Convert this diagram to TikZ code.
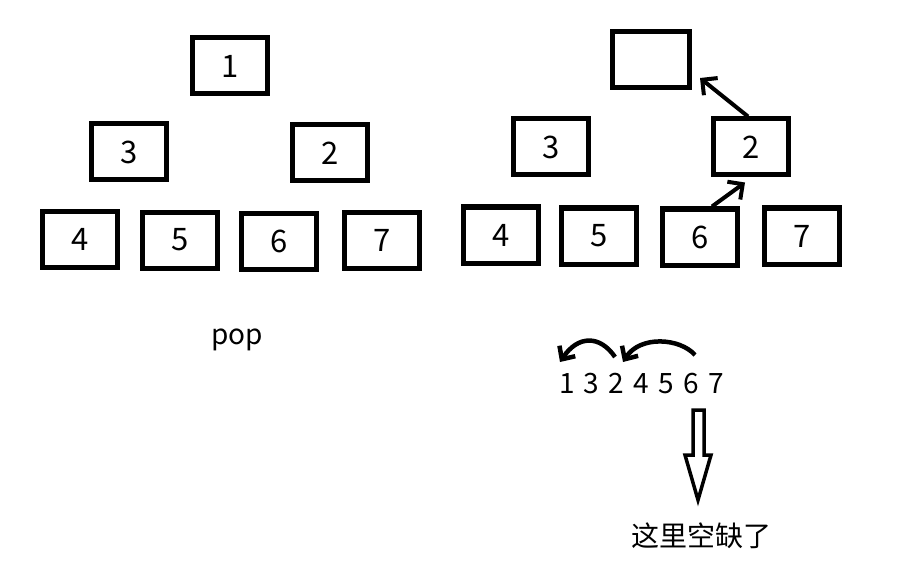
\documentclass[tikz,border=0pt]{standalone}
\usepackage{fontspec}
\setmainfont{Noto Sans CJK SC}
\usetikzlibrary{arrows.meta,positioning,calc}

\begin{document}
\begin{tikzpicture}[x=1pt,y=-1pt,
  box/.style={draw,line width=5pt,minimum width=75pt,minimum height=56pt,inner sep=0pt,font=\fontsize{31}{33}\selectfont},
  lbl/.style={inner sep=0pt,font=\fontsize{28}{30}\selectfont},
  digit/.style={lbl,anchor=base},
  barb/.style={-{Straight Barb[length=11pt,width=22pt]},line width=4pt},
  curvy/.style={-{Straight Barb[length=10pt,width=19pt]},line width=4.5pt}]
  \useasboundingbox (0,0) rectangle (907,564);
  % heap before pop
  \node[box] (a1) at (230,66) {1};
  \node[box] (a3) at (129,152) {3};  \node[box] (a2) at (330,153) {2};
  \node[box] (a4) at (80,239) {4};   \node[box] (a5) at (180,240) {5};
  \node[box] (a6) at (279,241) {6};  \node[box] (a7) at (382,240) {7};
  \node[lbl] (pop) at (237,340) {pop};
  % heap after pop
  \node[box,minimum width=77pt] (r0) at (651,60) {};
  \node[box] (r3) at (551,147) {3};  \node[box] (r2) at (751,147) {2};
  \node[box] (r4) at (501,235) {4};  \node[box] (r5) at (599,236) {5};
  \node[box] (r6) at (700,237) {6};  \node[box] (r7) at (802,236) {7};
  \draw[barb] ([xshift=-3pt]r2.north) -- ([shift={(8,18)}]r0.east);
  \draw[barb] ([xshift=12pt]r6.north) -- ([shift={(-6,5)}]r2.south);
  % array
  \node[digit] (q1) at (567,393) {1};  \node[digit] (q2) at (591,393) {3};
  \node[digit] (q3) at (616,393) {2};  \node[digit] (q4) at (641,393) {4};
  \node[digit] (q5) at (666,393) {5};  \node[digit] (q6) at (691,393) {6};
  \node[digit] (q7) at (716,393) {7};
  \draw[curvy] ([shift={(-1,-36)}]q3.base) .. controls +(-15,-22) and +(18,-27) .. ([shift={(-7,-31)}]q1.base);
  \draw[curvy] ([shift={(4,-38)}]q6.base) .. controls +(-15,-17) and +(17,-27) .. ([shift={(7,-31)}]q3.base);
  % hollow arrow down
  \coordinate (tip) at (698,500);
  \draw[line width=3.5pt,line join=miter]
    ($(tip)+(-5,-90)$) -- ($(tip)+(6,-90)$) -- ($(tip)+(6,-45)$) -- ($(tip)+(13,-45)$)
    -- (tip) -- ($(tip)+(-13,-45)$) -- ($(tip)+(-5,-45)$) -- cycle;
  \node[lbl] (gap) at (701,536) {这里空缺了};
\end{tikzpicture}
\end{document}
